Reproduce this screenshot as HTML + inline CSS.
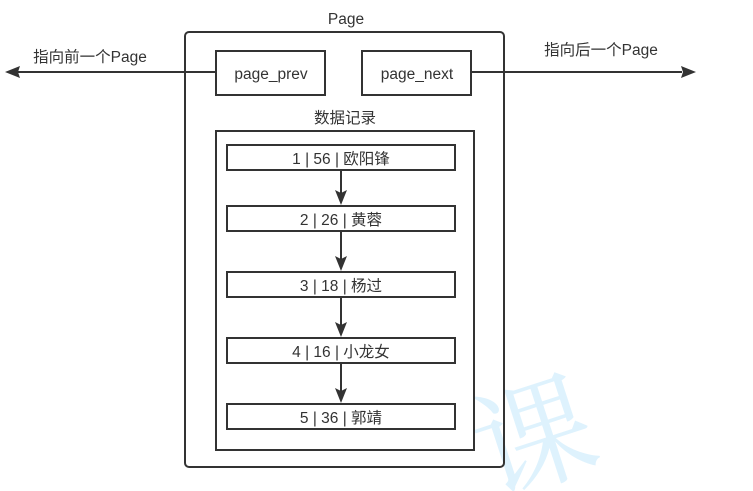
<!DOCTYPE html>
<html><head><meta charset="utf-8"><style>
body{margin:0;background:#fff;width:753px;height:491px;overflow:hidden;}
svg{display:block;overflow:hidden}
</style></head><body>
<svg width="753" height="491" viewBox="0 0 753 491" xmlns="http://www.w3.org/2000/svg" font-family="'Liberation Sans','Noto Sans CJK SC',sans-serif" fill="none">
<text x="535" y="480" font-size="120" fill="#d6effc" fill-opacity="0.8" text-anchor="middle" transform="rotate(-18 535 440)" font-family="'Noto Serif CJK SC',serif">课</text>
<g stroke="#333" stroke-width="2">
<rect x="185" y="32" width="319" height="435" rx="4"/>
<rect x="216" y="51" width="109" height="44" fill="#fff"/>
<rect x="362" y="51" width="109" height="44" fill="#fff"/>
<rect x="216" y="131" width="258" height="319"/>
<rect x="227" y="145" width="228" height="25" fill="#fff"/>
<rect x="227" y="206" width="228" height="25" fill="#fff"/>
<rect x="227" y="272" width="228" height="25" fill="#fff"/>
<rect x="227" y="338" width="228" height="25" fill="#fff"/>
<rect x="227" y="404" width="228" height="25" fill="#fff"/>
<line x1="216" y1="72" x2="18" y2="72"/>
<line x1="471" y1="72" x2="682" y2="72"/>
<line x1="341" y1="170" x2="341" y2="194"/>
<line x1="341" y1="231" x2="341" y2="260"/>
<line x1="341" y1="297" x2="341" y2="326"/>
<line x1="341" y1="363" x2="341" y2="392"/>
</g>
<g fill="#333">
<polygon points="5,72 20,66 18,72 20,78"/>
<polygon points="696,72 681,66 683,72 681,78"/>
<polygon points="341,205 335,190 341,193 347,190"/>
<polygon points="341,271 335,256 341,259 347,256"/>
<polygon points="341,337 335,322 341,325 347,322"/>
<polygon points="341,403 335,388 341,391 347,388"/>
</g>
<g fill="#333" font-size="15.5" text-anchor="middle">
<text x="346" y="24">Page</text>
<text x="271" y="79">page_prev</text>
<text x="417" y="79">page_next</text>
<text x="345" y="123">数据记录</text>
<text x="341" y="164">1 | 56 | 欧阳锋</text>
<text x="341" y="225">2 | 26 | 黄蓉</text>
<text x="341" y="291">3 | 18 | 杨过</text>
<text x="341" y="357">4 | 16 | 小龙女</text>
<text x="341" y="423">5 | 36 | 郭靖</text>
<text x="90" y="62">指向前一个Page</text>
<text x="601" y="55">指向后一个Page</text>
</g>
</svg>
</body></html>
